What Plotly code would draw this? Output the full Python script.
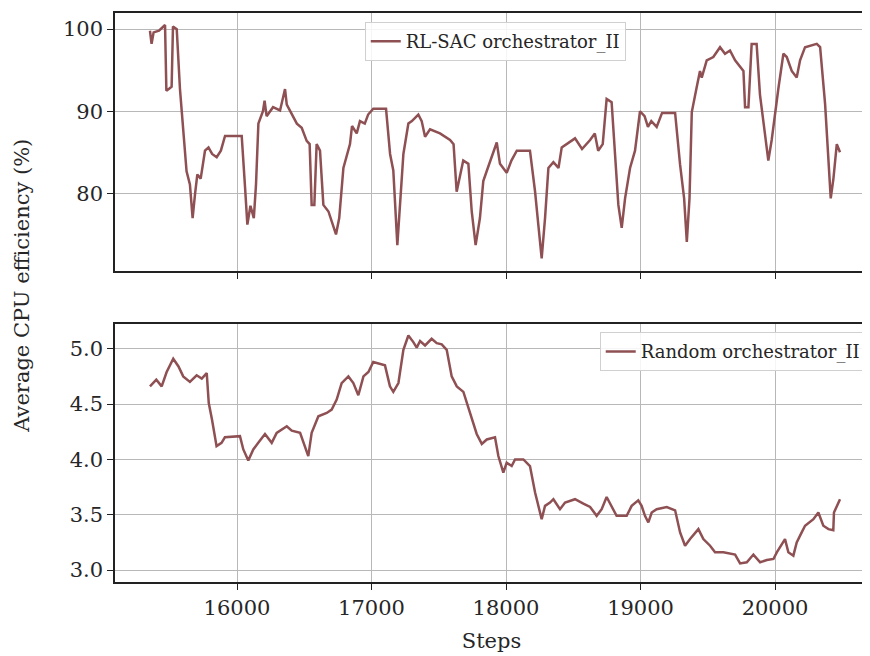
import plotly.graph_objects as go
from plotly.subplots import make_subplots

sac_steps = [15353, 15365, 15380, 15420, 15465, 15475, 15500, 15514, 15524, 15552, 15576, 15613, 15625, 15650,
             15670, 15688, 15705, 15730, 15762, 15788, 15815, 15849, 15880, 15911, 16035, 16060, 16077, 16100,
             16125, 16141, 16159, 16193, 16205, 16220, 16268, 16320, 16357, 16370, 16406, 16445, 16481, 16518,
             16540, 16555, 16575, 16592, 16617, 16642, 16680, 16710, 16736, 16760, 16791, 16840, 16855, 16890,
             16914, 16950, 16975, 17013, 17108, 17138, 17162, 17192, 17212, 17237, 17274, 17300, 17348, 17373,
             17398, 17435, 17509, 17584, 17610, 17633, 17682, 17720, 17745, 17774, 17806, 17831, 17856, 17906,
             17931, 17955, 18005, 18040, 18080, 18178, 18216, 18240, 18265, 18290, 18315, 18352, 18390, 18414,
             18450, 18513, 18565, 18625, 18660, 18685, 18719, 18748, 18785, 18811, 18835, 18860, 18885, 18922,
             18959, 18996, 19030, 19055, 19080, 19120, 19160, 19257, 19294, 19324, 19344, 19364, 19381, 19417,
             19442, 19455, 19492, 19541, 19591, 19628, 19665, 19703, 19740, 19765, 19777, 19802, 19826, 19863,
             19888, 19926, 19950, 19975, 20000, 20025, 20062, 20087, 20124, 20161, 20186, 20223, 20310, 20335,
             20372, 20397, 20414, 20434, 20459, 20483]
sac_vals = [99.8, 98.2, 99.6, 99.8, 100.5, 92.5, 92.8, 93.0, 100.3, 100.0, 92.7, 84.8, 82.7, 81.1,
            77.0, 79.9, 82.3, 81.8, 85.2, 85.6, 84.8, 84.4, 85.2, 87.0, 87.0, 80.7, 76.2, 78.5,
            77.0, 81.0, 88.5, 90.0, 91.3, 89.4, 90.5, 90.1, 92.7, 90.8, 89.6, 88.5, 88.0, 86.4,
            86.0, 78.6, 78.6, 86.0, 85.2, 78.6, 77.8, 76.2, 75.0, 77.0, 83.1, 86.0, 88.2, 87.3,
            88.8, 88.5, 89.6, 90.3, 90.3, 84.8, 82.8, 73.7, 78.6, 84.8, 88.5, 88.8, 89.6, 88.8,
            86.9, 87.8, 87.3, 86.5, 86.0, 80.2, 84.0, 83.6, 77.8, 73.7, 77.0, 81.5, 82.7, 85.2,
            86.2, 83.6, 82.5, 84.0, 85.2, 85.2, 80.2, 76.2, 72.1, 77.0, 83.1, 83.8, 83.1, 85.6,
            86.0, 86.7, 85.4, 86.5, 87.3, 85.2, 86.0, 91.5, 91.1, 84.0, 78.6, 75.8, 79.4, 83.1,
            85.2, 90.0, 89.4, 88.1, 88.8, 88.1, 89.8, 89.8, 83.5, 79.4, 74.1, 79.4, 89.9, 92.9,
            94.9, 94.1, 96.2, 96.6, 97.8, 97.0, 97.4, 96.2, 95.4, 94.9, 90.5, 90.5, 98.2, 98.2,
            92.0, 86.8, 84.0, 86.5, 89.9, 92.8, 97.0, 96.6, 94.9, 94.1, 96.2, 97.8, 98.2, 97.8,
            90.9, 84.8, 79.4, 81.8, 86.0, 85.0]

rnd_steps = [15353, 15400, 15440, 15477, 15526, 15565, 15600, 15650, 15700, 15738, 15775, 15790, 15814,
             15836, 15848, 15885, 15910, 16022, 16047, 16084, 16121, 16158, 16208, 16258, 16295, 16370,
             16407, 16469, 16506, 16530, 16555, 16605, 16667, 16704, 16741, 16778, 16828, 16865, 16902,
             16940, 16977, 17013, 17100, 17137, 17162, 17200, 17237, 17274, 17311, 17336, 17361, 17398,
             17447, 17485, 17522, 17559, 17596, 17634, 17683, 17733, 17782, 17820, 17857, 17918, 17943,
             17980, 18005, 18042, 18067, 18129, 18178, 18216, 18240, 18265, 18290, 18327, 18352, 18401,
             18439, 18513, 18575, 18625, 18674, 18711, 18748, 18785, 18822, 18897, 18934, 18983, 19008,
             19033, 19058, 19083, 19120, 19195, 19257, 19294, 19331, 19368, 19430, 19467, 19517, 19554,
             19616, 19703, 19740, 19790, 19839, 19889, 19939, 19988, 20013, 20074, 20099, 20136, 20161,
             20198, 20223, 20285, 20322, 20359, 20397, 20433, 20438, 20483]
rnd_vals = [4.66, 4.72, 4.66, 4.79, 4.91, 4.84, 4.75, 4.70, 4.76, 4.73, 4.78, 4.51, 4.36,
            4.21, 4.12, 4.15, 4.20, 4.21, 4.09, 3.99, 4.09, 4.15, 4.23, 4.15, 4.24, 4.30,
            4.26, 4.24, 4.12, 4.03, 4.24, 4.39, 4.42, 4.45, 4.54, 4.69, 4.75, 4.69, 4.58,
            4.75, 4.79, 4.88, 4.85, 4.66, 4.61, 4.69, 4.99, 5.12, 5.06, 5.01, 5.07, 5.03,
            5.09, 5.05, 5.04, 4.99, 4.75, 4.66, 4.61, 4.42, 4.23, 4.14, 4.18, 4.20, 4.03,
            3.88, 3.97, 3.94, 4.00, 4.00, 3.94, 3.70, 3.58, 3.46, 3.58, 3.61, 3.64, 3.55,
            3.61, 3.64, 3.60, 3.57, 3.49, 3.55, 3.66, 3.58, 3.49, 3.49, 3.58, 3.63, 3.58,
            3.49, 3.43, 3.52, 3.55, 3.57, 3.54, 3.34, 3.22, 3.28, 3.37, 3.28, 3.22, 3.16,
            3.16, 3.14, 3.06, 3.07, 3.14, 3.07, 3.09, 3.10, 3.16, 3.28, 3.16, 3.13, 3.25,
            3.34, 3.40, 3.46, 3.52, 3.40, 3.37, 3.36, 3.52, 3.64]

x_ticks = [16000, 17000, 18000, 19000, 20000]
x_tick_labels = ["16000", "17000", "18000", "19000", "20000"]
top_ticks = [80, 90, 100]
bottom_ticks = [3.0, 3.5, 4.0, 4.5, 5.0]

color = "#8e5053"
font_family = "DejaVu Serif"
txt = "#262626"

fig = make_subplots(rows=2, cols=1, shared_xaxes=True, vertical_spacing=0.093)

fig.add_trace(go.Scatter(x=sac_steps, y=sac_vals, mode="lines", name="RL-SAC orchestrator_II",
                         line=dict(color=color, width=2.5), legend="legend"), row=1, col=1)
fig.add_trace(go.Scatter(x=rnd_steps, y=rnd_vals, mode="lines", name="Random orchestrator_II",
                         line=dict(color=color, width=2.5), legend="legend2"), row=2, col=1)

axis_common = dict(showline=True, linecolor="#222", linewidth=1.5, mirror=True,
                   showgrid=True, gridcolor="#b8b8b8", gridwidth=1,
                   ticks="outside", ticklen=6, tickcolor="#222", zeroline=False,
                   tickfont=dict(size=21, color=txt, family=font_family))

fig.update_xaxes(**axis_common, range=[15093, 20691], tickvals=x_ticks, ticktext=x_tick_labels)
fig.update_xaxes(showticklabels=False, row=1, col=1)
fig.update_xaxes(title=dict(text="Steps", font=dict(size=21, color=txt, family=font_family), standoff=14),
                 row=2, col=1)
fig.update_yaxes(**axis_common)
fig.update_yaxes(range=[70.55, 101.96], tickvals=top_ticks, row=1, col=1)
fig.update_yaxes(range=[2.892, 5.224], tickvals=bottom_ticks, tickformat=".1f", row=2, col=1)

legend_common = dict(xref="paper", yref="paper", bgcolor="rgba(255,255,255,0.85)",
                     bordercolor="#d0d0d0", borderwidth=1,
                     font=dict(size=18, family=font_family, color=txt))

# The page body has an 8px margin, so the figure is sized/offset to fit the 870x656 window.
fig.update_layout(
    width=862, height=648,
    margin=dict(l=107, r=2, t=5, b=74, autoexpand=False),
    plot_bgcolor="white", paper_bgcolor="white",
    font=dict(family=font_family, color=txt),
    showlegend=True,
    legend=dict(x=0.505, y=0.984, xanchor="center", yanchor="top", **legend_common),
    legend2=dict(x=0.997, y=0.439, xanchor="right", yanchor="top", **legend_common),
    annotations=[dict(text="Average CPU efficiency (%)", x=-0.124, y=0.52, xref="paper", yref="paper",
                      xanchor="center", yanchor="middle",
                      showarrow=False, textangle=-90, font=dict(size=21, family=font_family, color=txt))],
)

fig.write_html("out.html")
